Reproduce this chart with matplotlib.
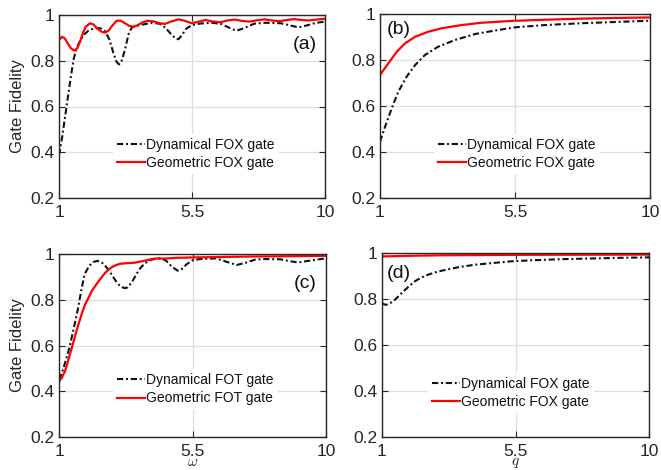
import matplotlib
matplotlib.use('Agg')
import matplotlib.pyplot as plt

plt.rcParams['font.family'] = ['Liberation Sans', 'DejaVu Sans']
plt.rcParams['mathtext.fontset'] = 'cm'
plt.rcParams['lines.scale_dashes'] = False

# eixos e rotulos
xtick_vals = [1, 5.5, 10]
xtick_labels = ['1', '5.5', '10']
ytick_vals = [0.2, 0.4, 0.6, 0.8, 1.0]
ytick_labels = ['0.2', '0.4', '0.6', '0.8', '1']

# (a) fidelidade vs omega, FOX
a_dyn_x = [1.0, 1.1, 1.2, 1.3, 1.4, 1.5, 1.6, 1.7, 1.85, 2.0, 2.2, 2.4, 2.55, 2.7, 2.85,
           2.95, 3.03, 3.12, 3.23, 3.35, 3.46, 3.65, 3.9, 4.15, 4.4, 4.6, 4.8, 4.95, 5.04,
           5.15, 5.3, 5.5, 5.8, 6.2, 6.5, 6.75, 7.0, 7.25, 7.6, 8.0, 8.5, 8.8, 9.1, 9.4,
           9.7, 10.0]
a_dyn_y = [0.388, 0.46, 0.55, 0.64, 0.73, 0.81, 0.855, 0.885, 0.915, 0.932, 0.942, 0.942,
           0.93, 0.895, 0.83, 0.795, 0.784, 0.80, 0.847, 0.915, 0.945, 0.953, 0.960, 0.966,
           0.962, 0.945, 0.915, 0.897, 0.894, 0.91, 0.94, 0.956, 0.963, 0.966, 0.96, 0.945,
           0.931, 0.942, 0.962, 0.966, 0.964, 0.955, 0.946, 0.955, 0.966, 0.971]
a_geo_x = [1.0, 1.1, 1.2, 1.3, 1.4, 1.52, 1.62, 1.71, 1.8, 1.9, 2.05, 2.17, 2.3, 2.45, 2.56,
           2.68, 2.8, 2.95, 3.08, 3.23, 3.38, 3.52, 3.66, 3.8, 4.0, 4.2, 4.4, 4.59, 4.8,
           5.04, 5.25, 5.49, 5.7, 5.95, 6.2, 6.45, 6.7, 6.95, 7.2, 7.45, 7.7, 7.95, 8.2,
           8.45, 8.7, 8.95, 9.2, 9.45, 9.7, 10.0]
a_geo_y = [0.89, 0.905, 0.897, 0.875, 0.855, 0.844, 0.855, 0.883, 0.918, 0.948, 0.964,
           0.958, 0.94, 0.926, 0.923, 0.932, 0.953, 0.975, 0.975, 0.964, 0.952, 0.949,
           0.955, 0.966, 0.975, 0.972, 0.964, 0.961, 0.972, 0.981, 0.975, 0.964, 0.970,
           0.978, 0.972, 0.968, 0.976, 0.980, 0.974, 0.971, 0.977, 0.981, 0.976, 0.973,
           0.978, 0.982, 0.978, 0.976, 0.980, 0.983]

# (b) fidelidade vs q, FOX
b_dyn_x = [1.0, 1.17, 1.39, 1.61, 1.89, 2.17, 2.5, 2.94, 3.5, 4.17, 4.83, 5.5, 6.5, 7.75,
           9.0, 10.0]
b_dyn_y = [0.445, 0.51, 0.59, 0.662, 0.728, 0.778, 0.822, 0.858, 0.887, 0.913, 0.928,
           0.942, 0.952, 0.96, 0.966, 0.971]
b_geo_x = [1.0, 1.28, 1.56, 1.83, 2.17, 2.61, 3.06, 3.72, 4.39, 5.39, 6.5, 7.75, 9.0, 10.0]
b_geo_y = [0.735, 0.786, 0.836, 0.872, 0.901, 0.923, 0.938, 0.952, 0.962, 0.970, 0.975,
           0.980, 0.983, 0.985]

# (c) fidelidade vs omega, FOT
c_dyn_x = [1.0, 1.15, 1.35, 1.6, 1.75, 1.86, 2.0, 2.15, 2.3, 2.45, 2.6, 2.75, 2.9, 3.05,
           3.2, 3.3, 3.45, 3.6, 3.75, 3.9, 4.1, 4.4, 4.6, 4.8, 5.0, 5.15, 5.3, 5.5, 5.75,
           6.3, 6.6, 6.99, 7.3, 7.6, 7.9, 8.45, 8.8, 9.07, 9.4, 10.0]
c_dyn_y = [0.45, 0.5, 0.59, 0.735, 0.84, 0.91, 0.945, 0.965, 0.97, 0.962, 0.942, 0.915,
           0.885, 0.86, 0.851, 0.853, 0.875, 0.91, 0.94, 0.96, 0.975, 0.982, 0.972, 0.945,
           0.927, 0.935, 0.955, 0.972, 0.978, 0.981, 0.968, 0.952, 0.962, 0.975, 0.978,
           0.977, 0.968, 0.963, 0.97, 0.981]
c_geo_x = [1.0, 1.1, 1.2, 1.3, 1.43, 1.55, 1.65, 1.77, 1.88, 2.0, 2.1, 2.22, 2.33, 2.45,
           2.55, 2.7, 2.83, 3.0, 3.11, 3.3, 3.56, 3.75, 3.9, 4.1, 4.23, 4.6, 4.9, 5.5, 6.5,
           7.5, 8.5, 10.0]
c_geo_y = [0.443, 0.46, 0.487, 0.53, 0.589, 0.645, 0.69, 0.74, 0.78, 0.81, 0.837, 0.86,
           0.88, 0.90, 0.917, 0.935, 0.946, 0.955, 0.958, 0.96, 0.962, 0.967, 0.971, 0.977,
           0.98, 0.98, 0.983, 0.985, 0.987, 0.989, 0.990, 0.992]

# (d) fidelidade vs q, FOX
d_dyn_x = [1.0, 1.08, 1.16, 1.3, 1.44, 1.6, 1.78, 1.95, 2.11, 2.3, 2.56, 2.8, 3.01, 3.3,
           3.57, 4.13, 4.7, 5.37, 6.0, 7.0, 8.0, 9.0, 10.0]
d_dyn_y = [0.783, 0.776, 0.775, 0.784, 0.797, 0.818, 0.84, 0.86, 0.877, 0.892, 0.906,
           0.916, 0.923, 0.931, 0.938, 0.949, 0.956, 0.964, 0.968, 0.973, 0.976, 0.979, 0.981]
d_geo_x = [1.0, 2.0, 3.0, 5.5, 10.0]
d_geo_y = [0.985, 0.988, 0.990, 0.992, 0.993]

# posicoes em pixels (esq, dir, topo, base) na figura 661x470
W, H = 661, 470
paineis = [
    dict(box=(59, 325, 15, 198), dyn=(a_dyn_x, a_dyn_y), geo=(a_geo_x, a_geo_y),
         nomes=('Dynamical FOX gate', 'Geometric FOX gate'), tag='(a)', tagpos=(0.923, 0.84),
         leg=(0.203, 0.35), ylabel=True, xlabel=None),
    dict(box=(380, 650, 14, 198), dyn=(b_dyn_x, b_dyn_y), geo=(b_geo_x, b_geo_y),
         nomes=('Dynamical FOX gate', 'Geometric FOX gate'), tag='(b)', tagpos=(0.069, 0.918),
         leg=(0.200, 0.348), ylabel=False, xlabel=None),
    dict(box=(59, 326, 254, 437), dyn=(c_dyn_x, c_dyn_y), geo=(c_geo_x, c_geo_y),
         nomes=('Dynamical FOT gate', 'Geometric FOT gate'), tag='(c)', tagpos=(0.923, 0.84),
         leg=(0.202, 0.371), ylabel=True, xlabel=r'$\omega$'),
    dict(box=(382, 649, 253, 437), dyn=(d_dyn_x, d_dyn_y), geo=(d_geo_x, d_geo_y),
         nomes=('Dynamical FOX gate', 'Geometric FOX gate'), tag='(d)', tagpos=(0.062, 0.89),
         leg=(0.172, 0.348), ylabel=False, xlabel=r'$q$'),
]

cor_eixo = '#262626'

fig = plt.figure(figsize=(W / 100, H / 100), dpi=100)

for p in paineis:
    l, r, t, b = p['box']
    ax = fig.add_axes([l / W, 1 - b / H, (r - l) / W, (b - t) / H])
    ax.plot(p['dyn'][0], p['dyn'][1], color='#111111', lw=1.5,
            linestyle=(0, (4.5, 2.0, 1.4, 2.0)), label=p['nomes'][0])
    ax.plot(p['geo'][0], p['geo'][1], color='#ff0000', lw=1.6, label=p['nomes'][1])

    ax.set_xlim(1, 10)
    ax.set_ylim(0.2, 1.0)
    ax.set_xticks(xtick_vals)
    ax.set_xticklabels(xtick_labels)
    ax.set_yticks(ytick_vals)
    ax.set_yticklabels(ytick_labels)
    ax.grid(True, color='#dedede', lw=0.9)
    ax.set_axisbelow(True)
    ax.tick_params(direction='in', top=True, right=True, length=4, width=0.8,
                   colors=cor_eixo, labelsize=12.5)
    ax.tick_params(axis='x', pad=5)
    ax.tick_params(axis='y', pad=3)
    for s in ax.spines.values():
        s.set_color(cor_eixo)
        s.set_linewidth(1.0)

    leg = ax.legend(loc='upper left', bbox_to_anchor=p['leg'], fontsize=10,
                    frameon=True, facecolor='white', edgecolor='none', framealpha=1,
                    fancybox=False, borderpad=0.3, borderaxespad=0, labelspacing=0.3,
                    handlelength=2.0, handletextpad=0.1)
    for txt in leg.get_texts():
        txt.set_color('#111111')

    ax.text(p['tagpos'][0], p['tagpos'][1], p['tag'], transform=ax.transAxes,
            ha='center', va='center', fontsize=14, color='#111111')

    if p['ylabel']:
        ax.set_ylabel('Gate Fidelity', fontsize=12, color=cor_eixo)
        ax.yaxis.set_label_coords(-0.128, 0.5)
    if p['xlabel']:
        # rotulo do eixo x colado na borda inferior da figura
        ax.text(0.5, (b - 469.5) / (b - t), p['xlabel'], transform=ax.transAxes,
                ha='center', va='bottom', fontsize=11, color=cor_eixo)

fig.savefig('out.png', dpi=100)
